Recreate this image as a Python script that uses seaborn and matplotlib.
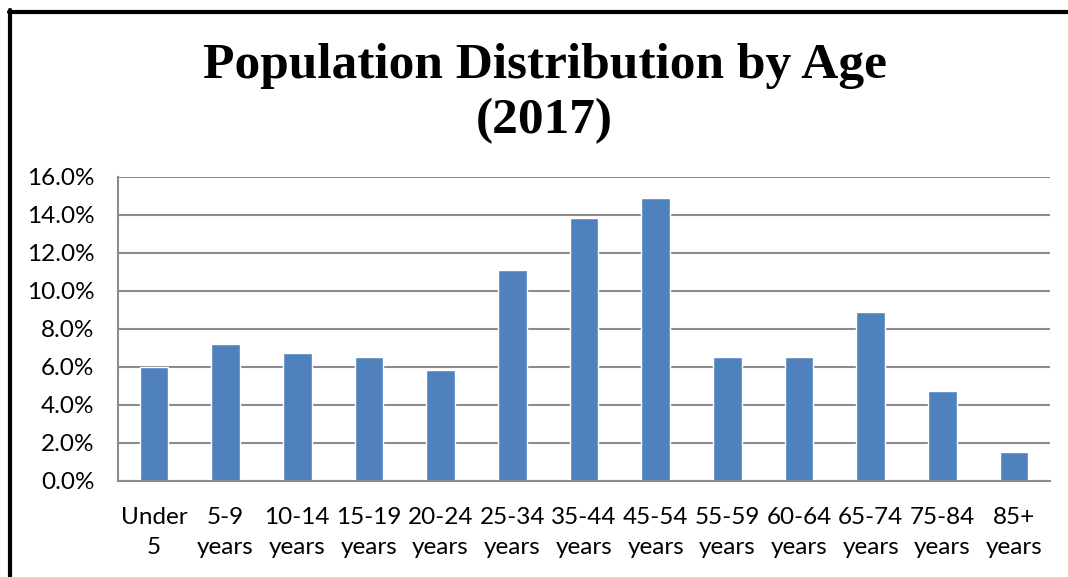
import matplotlib
matplotlib.use("Agg")
import matplotlib.pyplot as plt
import pandas as pd
import seaborn as sns
from matplotlib.lines import Line2D
from matplotlib.ticker import FixedLocator, PercentFormatter

# Data
age_groups = [
    "Under\n5",
    "5-9\nyears",
    "10-14\nyears",
    "15-19\nyears",
    "20-24\nyears",
    "25-34\nyears",
    "35-44\nyears",
    "45-54\nyears",
    "55-59\nyears",
    "60-64\nyears",
    "65-74\nyears",
    "75-84\nyears",
    "85+\nyears"
]

share_pct = [6.0, 7.2, 6.7, 6.5, 5.8, 11.1, 13.8, 14.9, 6.5, 6.5, 8.9, 4.7, 1.5]

y_ticks = [0, 2, 4, 6, 8, 10, 12, 14, 16]

df = pd.DataFrame({"age": age_groups, "share": share_pct})

sns.set_style("white")
plt.rcParams["font.family"] = ["Lato", "DejaVu Sans"]

fig = plt.figure(figsize=(10.68, 5.77), dpi=100)
ax = fig.add_axes([0.1105, 0.1669, 0.9831 - 0.1105, 0.6938 - 0.1669])

sns.barplot(
    data=df,
    x="age",
    y="share",
    color="#4F81BD",
    saturation=1,
    width=0.4,
    ax=ax
)

grid_color = "#8c8c8c"

ax.set_xlim(-0.5, len(age_groups) - 0.5)
ax.set_ylim(0, 16)
ax.yaxis.set_major_locator(FixedLocator(y_ticks))
ax.yaxis.set_major_formatter(PercentFormatter(100, decimals=1))
ax.yaxis.grid(True, color=grid_color, linewidth=1.5)
ax.set_axisbelow(True)

# category boundary ticks on the x axis
ax.xaxis.set_minor_locator(FixedLocator([i - 0.5 for i in range(len(age_groups) + 1)]))
ax.tick_params(axis="x", which="major", length=0, pad=19, labelsize=17.5, labelcolor="black")
ax.tick_params(axis="x", which="minor", length=6, width=1.5, color=grid_color)
ax.tick_params(axis="y", length=6, width=1.5, color=grid_color, labelsize=17.5, pad=11, labelcolor="black")
for lbl in ax.get_xticklabels():
    lbl.set_linespacing(1.5)

for side in ["top", "right"]:
    ax.spines[side].set_visible(False)
for side in ["left", "bottom"]:
    ax.spines[side].set_color(grid_color)
    ax.spines[side].set_linewidth(1.5)

ax.set_xlabel("")
ax.set_ylabel("")

fig.text(
    0.51,
    0.838,
    "Population Distribution by Age\n(2017)",
    ha="center",
    va="center",
    color="black",
    fontsize=37,
    fontweight="bold",
    family="Liberation Serif",
    linespacing=1.25
)

# black frame (left and top edges only are visible in the crop)
fig.add_artist(Line2D([10 / 1068, 10 / 1068], [0, 1 - 10 / 577], color="black", linewidth=3, transform=fig.transFigure))
fig.add_artist(Line2D([8.5 / 1068, 1], [1 - 11.5 / 577, 1 - 11.5 / 577], color="black", linewidth=3, transform=fig.transFigure))

fig.savefig("out.png", dpi=100)
